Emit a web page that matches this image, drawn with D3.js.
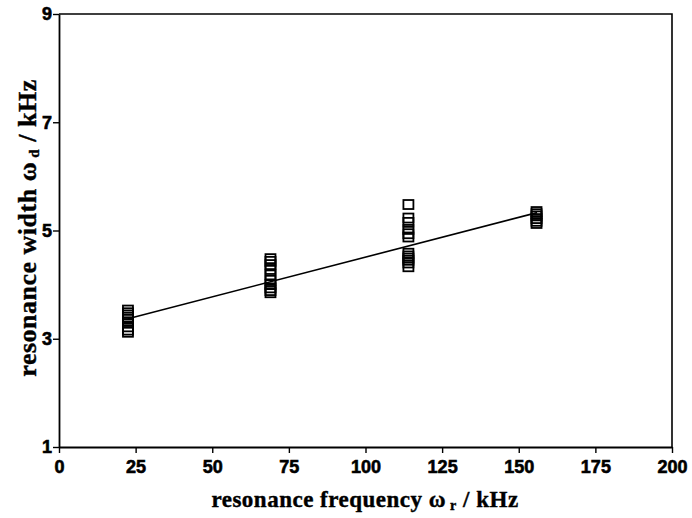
<!DOCTYPE html>
<html>
<head>
<meta charset="utf-8">
<script src="https://cdn.jsdelivr.net/npm/d3@7"></script>
<style>
  html, body { margin: 0; padding: 0; background: #fff; }
  svg { display: block; }
</style>
</head>
<body>
<svg id="chart" width="692" height="518"></svg>
<script>
// Resonance frequency (kHz) of each measurement group
const groupFreq = [22.5, 69, 114, 155.8];

// Measured resonance widths (kHz) at each frequency group
const widths22 = [3.53, 3.48, 3.44, 3.40, 3.36, 3.30, 3.22, 3.16, 3.12];
const widths69 = [4.48, 4.43, 4.37, 4.28, 4.18, 4.08, 4.00, 3.94, 3.89, 3.85];
const widths114 = [5.48, 5.23, 5.15, 5.02, 4.94, 4.88, 4.58, 4.53, 4.49, 4.45, 4.40, 4.33];
const widths156 = [5.35, 5.31, 5.27, 5.22, 5.17, 5.13];

// Linear fit of width versus frequency
const fitIntercept = 3.04;
const fitSlope = 0.01468;
const fitRange = [22.5, 156];

// Axis ticks
const xTicks = [0, 25, 50, 75, 100, 125, 150, 175, 200];
const yTicks = [1, 3, 5, 7, 9];

const svg = d3.select("#chart");
const plotLeft = 59, plotRight = 672, plotTop = 14, plotBottom = 447;

const x = d3.scaleLinear().domain([0, 200]).range([plotLeft, plotRight]);
const y = d3.scaleLinear().domain([1, 9]).range([plotBottom, plotTop]);

// Build point list
const groups = [widths22, widths69, widths114, widths156];
const points = [];
groups.forEach((ws, gi) => ws.forEach(w => points.push({ f: groupFreq[gi], w })));

// Frame (top and right edges)
svg.append("path")
  .attr("d", `M${plotLeft},${plotTop}H${plotRight}V${plotBottom}`)
  .attr("fill", "none").attr("stroke", "#000").attr("stroke-width", 1.6);

function styleTickText(sel) {
  sel.selectAll(".tick text")
    .style("font-family", "'Liberation Sans', Arial, sans-serif")
    .style("font-weight", "bold")
    .style("font-size", "18px")
    .attr("fill", "#000")
    .attr("stroke", "#000").attr("stroke-width", 0.6);
}

// X axis
const xAxis = svg.append("g").attr("transform", `translate(0,${plotBottom})`)
  .call(d3.axisBottom(x).tickValues(xTicks).tickSize(6).tickSizeOuter(0).tickPadding(7));
xAxis.select(".domain").attr("stroke-width", 1.8);
xAxis.selectAll(".tick line").attr("stroke-width", 1.4);
styleTickText(xAxis);

// Y axis
const yAxis = svg.append("g").attr("transform", `translate(${plotLeft},0)`)
  .call(d3.axisLeft(y).tickValues(yTicks).tickSize(6).tickSizeOuter(0).tickPadding(1));
yAxis.select(".domain").attr("stroke-width", 1.8);
yAxis.selectAll(".tick line").attr("stroke-width", 1.4);
styleTickText(yAxis);

// Fit line
svg.append("line")
  .attr("x1", x(fitRange[0])).attr("y1", y(fitIntercept + fitSlope * fitRange[0]))
  .attr("x2", x(fitRange[1])).attr("y2", y(fitIntercept + fitSlope * fitRange[1]))
  .attr("stroke", "#000").attr("stroke-width", 1.6);

// Open square markers
const sw = 10, sh = 9;
svg.append("g").selectAll("rect").data(points).join("rect")
  .attr("x", d => x(d.f) - sw / 2)
  .attr("y", d => y(d.w) - sh / 2)
  .attr("width", sw).attr("height", sh)
  .attr("fill", "none").attr("stroke", "#000").attr("stroke-width", 1.8);

// Axis titles
const titleFont = "'Liberation Serif', 'Times New Roman', serif";

const xt = svg.append("text")
  .attr("x", 365).attr("y", 507).attr("text-anchor", "middle")
  .attr("stroke", "#000").attr("stroke-width", 0.4)
  .style("font-family", titleFont).style("font-weight", "bold")
  .style("font-size", "23px").style("letter-spacing", "0.5px");
xt.append("tspan").text("resonance frequency ω");
xt.append("tspan").style("font-size", "14px").attr("dy", 3).text(" r");
xt.append("tspan").attr("dy", -3).text(" / kHz");

const yt = svg.append("text")
  .attr("transform", "translate(36,228) rotate(-90)").attr("text-anchor", "middle")
  .attr("stroke", "#000").attr("stroke-width", 0.4)
  .style("font-family", titleFont).style("font-weight", "bold")
  .style("font-size", "26px").style("letter-spacing", "0.5px");
yt.append("tspan").text("resonance width ω");
yt.append("tspan").style("font-size", "15px").attr("dy", 3).text(" d");
yt.append("tspan").attr("dy", -3).text(" / kHz");
</script>
</body>
</html>
